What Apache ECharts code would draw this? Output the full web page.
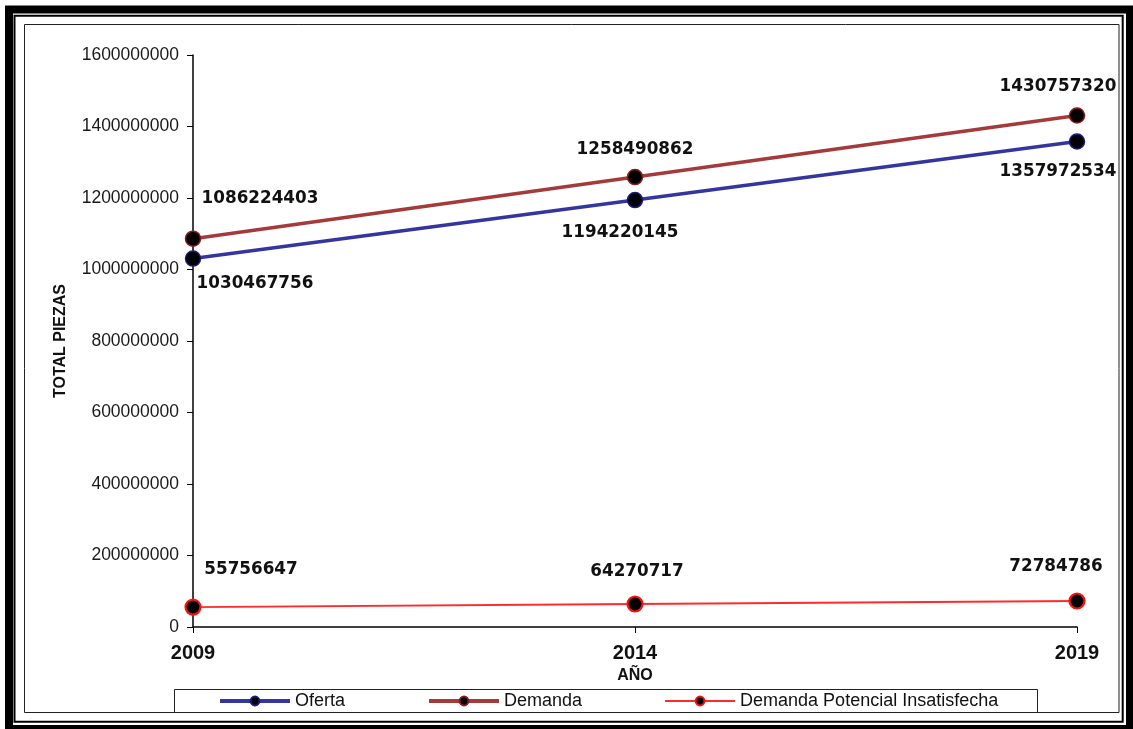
<!DOCTYPE html>
<html>
<head>
<meta charset="utf-8">
<title>Oferta y Demanda</title>
<script src="https://cdn.jsdelivr.net/npm/echarts@6/dist/echarts.min.js"></script>
<style>
  html, body { margin: 0; padding: 0; background: #ffffff; }
  #chart { width: 1133px; height: 729px; }
</style>
</head>
<body>
<div id="chart"></div>
<script>
// Years on the horizontal axis
const years = ['2009', '2014', '2019'];

// Pieces per year
const oferta = [1030467756, 1194220145, 1357972534];
const demanda = [1086224403, 1258490862, 1430757320];
const demandaInsatisfecha = [55756647, 64270717, 72784786];

// Series names shown in the legend
const seriesNames = ['Oferta', 'Demanda', 'Demanda Potencial Insatisfecha'];

// Value-axis range
const yMin = 0;
const yMax = 1600000000;
const yStep = 200000000;

// Where each value label sits relative to its marker (px)
const labelOffsets = {
  oferta: [[62, 25], [-15, 33], [-19, 30]],
  demanda: [[67, -40], [0, -27], [-19, -29]],
  insatisfecha: [[58, -37], [2, -32], [-21, -34]]
};

// Series colours and line widths
const lineColors = ['#3535a0', '#a53a3a', '#ff2a2a'];
const markerBorders = ['#1a1a80', '#8a1a1a', '#ff1010'];
const lineWidths = [3.5, 3.5, 1.8];

function withLabels(values, offsets) {
  return values.map((v, i) => ({ value: v, label: { offset: offsets[i] } }));
}

const valueLabel = {
  show: true,
  position: 'inside',
  align: 'center',
  verticalAlign: 'middle',
  color: '#111111',
  fontFamily: 'DejaVu Sans',
  fontWeight: 'bold',
  fontSize: 16.8
};

const chart = echarts.init(document.getElementById('chart'), null, { renderer: 'canvas' });

chart.setOption({
  animation: false,
  backgroundColor: '#ffffff',
  grid: { left: 193, right: 56, top: 55, bottom: 102, containLabel: false },
  xAxis: {
    type: 'category',
    data: years,
    boundaryGap: false,
    name: 'AÑO',
    nameLocation: 'middle',
    nameGap: 39,
    nameTextStyle: { fontFamily: 'Liberation Sans', fontWeight: 'bold', fontSize: 16, color: '#111' },
    axisLine: { lineStyle: { color: '#000', width: 1.5 } },
    axisTick: { show: true, alignWithLabel: true, length: 6, lineStyle: { color: '#000', width: 1 } },
    axisLabel: { margin: 16, fontFamily: 'Liberation Sans', fontWeight: 'bold', fontSize: 20, color: '#111' },
    splitLine: { show: false }
  },
  yAxis: {
    type: 'value',
    min: yMin,
    max: yMax,
    interval: yStep,
    name: 'TOTAL PIEZAS',
    nameLocation: 'middle',
    nameGap: 124,
    nameTextStyle: { fontFamily: 'Liberation Sans', fontWeight: 'bold', fontSize: 16, color: '#111' },
    axisLine: { show: true, lineStyle: { color: '#000', width: 1.5 } },
    axisTick: { show: true, length: 6, lineStyle: { color: '#000', width: 1 } },
    axisLabel: {
      margin: 14,
      fontFamily: 'Liberation Sans',
      fontSize: 17.5,
      color: '#1a1a1a',
      formatter: (v) => String(v)
    },
    splitLine: { show: false }
  },
  legend: {
    left: 218,
    top: 692,
    padding: 0,
    itemWidth: 70,
    itemHeight: 11,
    itemGap: 82,
    textStyle: { fontFamily: 'Liberation Sans', fontSize: 18, color: '#111' },
    data: seriesNames.map((n, i) => ({
      name: n,
      lineStyle: { color: lineColors[i], width: i < 2 ? 4 : 2 }
    }))
  },
  graphic: [
    // heavy outer frame
    { type: 'rect', silent: true, z: 100,
      shape: { x: 9, y: 9.5, width: 1121, height: 719.5 },
      style: { fill: null, stroke: '#000', lineWidth: 8 } },
    // thin frame just inside it
    { type: 'rect', silent: true, z: 100,
      shape: { x: 14.5, y: 15.7, width: 1108.2, height: 706 },
      style: { fill: null, stroke: '#000', lineWidth: 2 } },
    // chart area border
    { type: 'rect', silent: true, z: 100,
      shape: { x: 24.5, y: 24.5, width: 1094.5, height: 688 },
      style: { fill: null, stroke: '#222', lineWidth: 1 } },
    // legend box
    { type: 'rect', silent: true, z: 100,
      shape: { x: 174.5, y: 689.5, width: 863, height: 23 },
      style: { fill: null, stroke: '#222', lineWidth: 1 } }
  ],
  series: seriesNames.map((n, i) => ({
    name: n,
    type: 'line',
    data: withLabels(
      [oferta, demanda, demandaInsatisfecha][i],
      [labelOffsets.oferta, labelOffsets.demanda, labelOffsets.insatisfecha][i]
    ),
    symbol: 'circle',
    symbolSize: 15,
    lineStyle: { color: lineColors[i], width: lineWidths[i] },
    itemStyle: { color: '#000', borderColor: markerBorders[i], borderWidth: i < 2 ? 1.5 : 2.2 },
    label: valueLabel,
    z: 3
  }))
});
</script>
</body>
</html>
